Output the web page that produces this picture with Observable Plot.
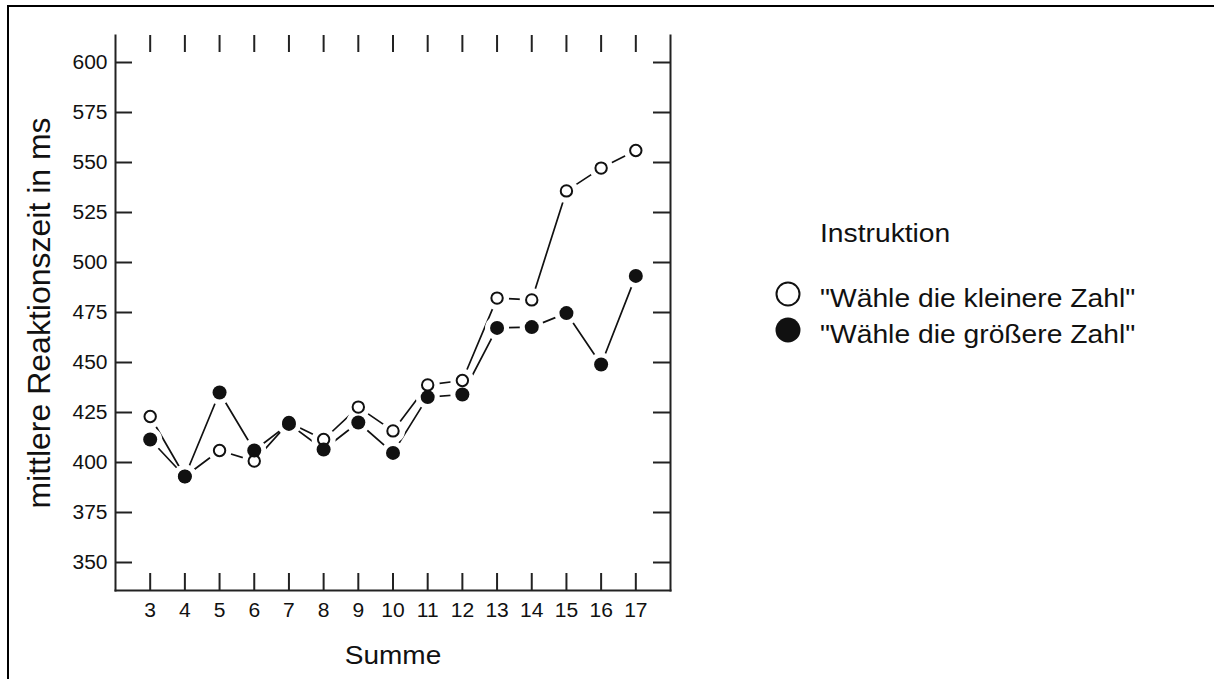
<!DOCTYPE html>
<html>
<head>
<meta charset="utf-8">
<script src="https://cdn.jsdelivr.net/npm/d3@7"></script>
<script src="https://cdn.jsdelivr.net/npm/@observablehq/plot@0.6"></script>
<style>
  html, body { margin: 0; padding: 0; background: #fff; }
  #wrap { position: relative; width: 1214px; height: 679px; overflow: hidden; font-family: "Liberation Sans", Arial, sans-serif; }
  #border { position: absolute; left: 7px; top: 5px; width: 1300px; height: 800px; border-top: 2px solid #000; border-left: 2px solid #000; }
  #chart { position: absolute; left: 0; top: 0; }
  #legend { position: absolute; left: 0; top: 0; }
</style>
</head>
<body>
<div id="wrap">
  <div id="border"></div>
  <div id="chart"></div>
  <svg id="legend" width="1214" height="679"></svg>
</div>
<script>
// ---- data ----
const sums = [3, 4, 5, 6, 7, 8, 9, 10, 11, 12, 13, 14, 15, 16, 17];
const kleinere = [423, 393, 406, 400.7, 420, 411.5, 427.7, 415.8, 438.8, 441, 482.2, 481.3, 535.8, 547.2, 556];
const groessere = [411.5, 393, 435, 406, 419.3, 406.5, 420, 404.8, 432.7, 434, 467.3, 467.7, 474.7, 449, 493.3];
const yTicks = [350, 375, 400, 425, 450, 475, 500, 525, 550, 575, 600];
const seriesNames = ['"Wähle die kleinere Zahl"', '"Wähle die größere Zahl"'];
const legendTitle = "Instruktion";
const xLabel = "Summe";
const yLabel = "mittlere Reaktionszeit in ms";

const data = [
  ...sums.map((s, i) => ({summe: s, rt: kleinere[i], instr: seriesNames[0]})),
  ...sums.map((s, i) => ({summe: s, rt: groessere[i], instr: seriesNames[1]}))
];

const ink = "#111";
const axisInk = "#222";
const font = '"Liberation Sans", Arial, sans-serif';
const tickLen = 17;
const W = 700, H = 679, mL = 115, mR = 30, mT = 35, mB = 89;
const frameW = W - mL - mR, frameH = H - mT - mB;

const chart = Plot.plot({
  width: W, height: H,
  marginLeft: mL, marginRight: mR, marginTop: mT, marginBottom: mB,
  style: {fontFamily: font, color: ink, background: "transparent"},
  x: {domain: [2, 18]},
  y: {domain: [336, 613.5]},
  marks: [
    Plot.frame({anchor: "left", stroke: axisInk, strokeWidth: 2}),
    Plot.frame({anchor: "right", stroke: axisInk, strokeWidth: 2}),
    Plot.frame({anchor: "bottom", stroke: axisInk, strokeWidth: 2}),
    Plot.tickY(yTicks, {y: d => d, insetRight: frameW - tickLen, stroke: axisInk, strokeWidth: 2}),
    Plot.tickY(yTicks, {y: d => d, insetLeft: frameW - tickLen, stroke: axisInk, strokeWidth: 2}),
    Plot.tickX(sums, {x: d => d, insetTop: frameH - tickLen, stroke: axisInk, strokeWidth: 2}),
    Plot.tickX(sums, {x: d => d, insetBottom: frameH - tickLen, stroke: axisInk, strokeWidth: 2}),
    Plot.axisY({ticks: yTicks, tickSize: 0, tickPadding: 8, fontSize: 20,
      label: yLabel, labelAnchor: "center", labelArrow: "none", labelOffset: 88}),
    Plot.axisX({ticks: sums, tickSize: 0, tickPadding: 12, fontSize: 20, tickFormat: d => String(d),
      label: xLabel, labelAnchor: "center", labelArrow: "none", labelOffset: 73}),
    Plot.line(data, {x: "summe", y: "rt", z: "instr", stroke: ink, strokeWidth: 1.7}),
    Plot.dot(data, {x: "summe", y: "rt", r: 12, fill: "white", stroke: "none"}),
    Plot.dot(data.filter(d => d.instr === seriesNames[0]), {x: "summe", y: "rt", r: 5.7, fill: "white", stroke: ink, strokeWidth: 2}),
    Plot.dot(data.filter(d => d.instr === seriesNames[1]), {x: "summe", y: "rt", r: 7, fill: ink, stroke: "none"})
  ]
});
document.getElementById("chart").appendChild(chart);

// wide glyph metrics of the reference font
function stretch(nodes, k) {
  nodes.forEach(t => {
    const len = t.getComputedTextLength();
    if (len > 0) {
      t.setAttribute("textLength", (len * k).toFixed(1));
      t.setAttribute("lengthAdjust", "spacingAndGlyphs");
    }
  });
}
function setSize(nodes, s) {
  nodes.forEach(t => { t.setAttribute("font-size", s); t.style.fontSize = s + "px"; });
}
const tickLabels = chart.querySelectorAll("g[aria-label='y-axis tick label'] text, g[aria-label='x-axis tick label'] text");
const yTitle = chart.querySelectorAll("g[aria-label='y-axis label'] text");
const xTitle = chart.querySelectorAll("g[aria-label='x-axis label'] text");
setSize(tickLabels, 20);
setSize(yTitle, 32);
setSize(xTitle, 25);
stretch(tickLabels, 1.05);
stretch(yTitle, 1.0);
stretch(xTitle, 1.12);

// ---- legend ----
const lg = d3.select("#legend").style("font-family", font);
lg.append("text").attr("x", 820).attr("y", 242).attr("font-size", 25).attr("fill", ink).text(legendTitle);
const items = lg.selectAll("g.item").data(seriesNames).join("g").attr("class", "item")
  .attr("transform", (d, i) => `translate(0, ${i * 36})`);
items.append("circle").attr("cx", 788).attr("cy", 294)
  .attr("r", (d, i) => i === 0 ? 11.5 : 12.5)
  .attr("fill", (d, i) => i === 0 ? "white" : ink)
  .attr("stroke", (d, i) => i === 0 ? ink : "none")
  .attr("stroke-width", 2);
items.append("text").attr("x", 820).attr("y", 307).attr("font-size", 25).attr("fill", ink).text(d => d);
stretch(document.getElementById("legend").querySelectorAll("text"), 1.13);
</script>
</body>
</html>
